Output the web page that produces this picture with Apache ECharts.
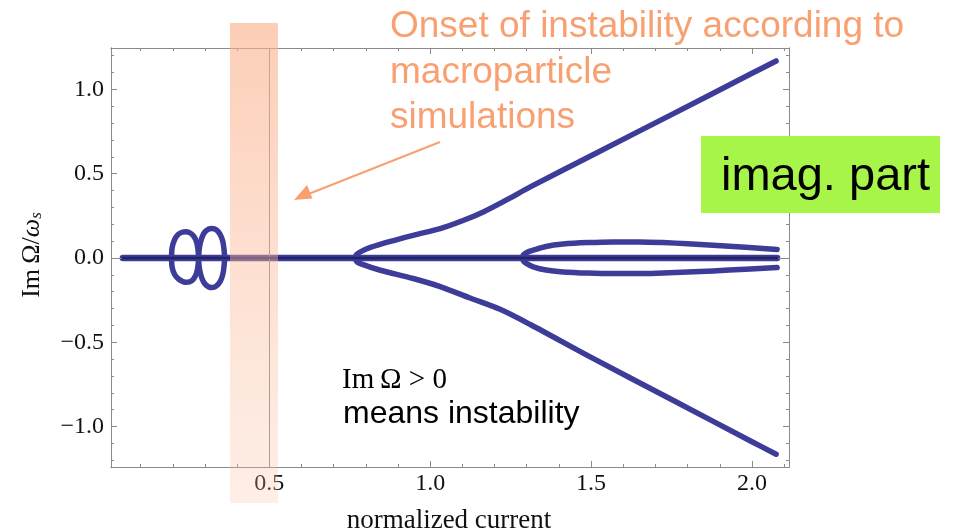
<!DOCTYPE html>
<html>
<head>
<meta charset="utf-8">
<script src="https://cdn.jsdelivr.net/npm/echarts@6/dist/echarts.min.js"></script>
<style>
  html, body { margin: 0; padding: 0; background: #ffffff; }
  #chart { width: 958px; height: 532px; }
</style>
</head>
<body>
<div id="chart"></div>
<script>
// Imaginary part of the coherent modes vs. normalized current

// real-axis segment (all modes with Im = 0)
const realAxisX = [0.045, 2.078];
const realAxisY = [0, 0];

// low-current loops
const loop1X = [0.196, 0.198, 0.205, 0.216, 0.229, 0.240, 0.252, 0.264, 0.273, 0.278, 0.280,
                0.278, 0.273, 0.264, 0.252, 0.240, 0.229, 0.216, 0.205, 0.198, 0.196];
const loop1Y = [0.000, 0.060, 0.105, 0.138, 0.152, 0.155, 0.150, 0.132, 0.100, 0.055, 0.000,
                -0.052, -0.095, -0.126, -0.142, -0.144, -0.138, -0.122, -0.095, -0.055, 0.000];
const loop2X = [0.280, 0.283, 0.290, 0.300, 0.312, 0.322, 0.335, 0.347, 0.355, 0.359, 0.361,
                0.359, 0.355, 0.347, 0.335, 0.322, 0.312, 0.300, 0.290, 0.283, 0.280];
const loop2Y = [0.000, 0.065, 0.118, 0.155, 0.172, 0.175, 0.167, 0.140, 0.102, 0.055, 0.000,
                -0.055, -0.102, -0.140, -0.167, -0.176, -0.172, -0.155, -0.118, -0.065, 0.000];

// main unstable / damped pair
const mainUpX = [0.767, 0.771, 0.783, 0.814, 0.876, 0.947, 1.031, 1.102, 1.165, 1.239, 1.311, 1.500, 1.750, 2.000, 2.075];
const mainUpY = [0.000, 0.020, 0.036, 0.062, 0.098, 0.134, 0.174, 0.222, 0.273, 0.346, 0.421, 0.606, 0.850, 1.095, 1.168];
const mainDnX = [0.767, 0.771, 0.783, 0.845, 0.947, 1.031, 1.124, 1.217, 1.311, 1.500, 1.750, 2.000, 2.075];
const mainDnY = [0.000, -0.020, -0.034, -0.073, -0.122, -0.170, -0.238, -0.305, -0.395, -0.590, -0.840, -1.090, -1.164];

// second pair splitting near 1.29
const secX   = [1.286, 1.290, 1.300, 1.320, 1.360, 1.413, 1.490, 1.568, 1.650, 1.724, 1.800, 1.879, 1.980, 2.078];
const secUpY = [0.000, 0.018, 0.032, 0.046, 0.068, 0.082, 0.091, 0.095, 0.095, 0.091, 0.084, 0.075, 0.063, 0.050];
const secDnY = [0.000, -0.018, -0.034, -0.053, -0.072, -0.083, -0.090, -0.093, -0.093, -0.089, -0.084, -0.077, -0.067, -0.057];

// axis ticks
const xMajorTicks = [0.5, 1.0, 1.5, 2.0];
const xMinorTicks = [0.1, 0.2, 0.3, 0.4, 0.5, 0.6, 0.7, 0.8, 0.9, 1.0, 1.1, 1.2, 1.3, 1.4, 1.5, 1.6, 1.7, 1.8, 1.9, 2.0, 2.1];
const yMajorTicks = [-1.0, -0.5, 0.0, 0.5, 1.0];
const yMinorTicks = [-1.2, -1.1, -1.0, -0.9, -0.8, -0.7, -0.6, -0.5, -0.4, -0.3, -0.2, -0.1, 0.0,
                     0.1, 0.2, 0.3, 0.4, 0.5, 0.6, 0.7, 0.8, 0.9, 1.0, 1.1, 1.2];
const xRange = [0.008, 2.115];
const yRange = [-1.240, 1.245];

const pairs = (xs, ys) => xs.map((x, i) => [x, ys[i]]);

const CURVE = '#3d3d99';
const FRAME = '#8a8a8a';
const ORANGE = '#f9a072';
const SERIF = '"Liberation Serif", "DejaVu Serif", serif';
const SANS = '"Liberation Sans", Arial, sans-serif';

const fmt = v => (v < 0 ? '\u2212' : '') + Math.abs(v).toFixed(1);

function xAxisDef(pos, ticks, len, labels) {
  return {
    type: 'value', position: pos, min: xRange[0], max: xRange[1],
    axisLine: { show: true, onZero: false, lineStyle: { color: FRAME, width: 1 } },
    axisTick: { show: true, inside: true, length: len, customValues: ticks, lineStyle: { color: FRAME } },
    axisLabel: labels ? { show: true, customValues: ticks, formatter: fmt, margin: 5,
      fontFamily: SERIF, fontSize: 24, color: '#111' } : { show: false },
    splitLine: { show: false }
  };
}
function yAxisDef(pos, ticks, len, labels) {
  return {
    type: 'value', position: pos, min: yRange[0], max: yRange[1],
    axisLine: { show: true, onZero: false, lineStyle: { color: FRAME, width: 1 } },
    axisTick: { show: true, inside: true, length: len, customValues: ticks, lineStyle: { color: FRAME } },
    axisLabel: labels ? { show: true, customValues: ticks, formatter: fmt, margin: 7,
      fontFamily: SERIF, fontSize: 24, color: '#111' } : { show: false },
    splitLine: { show: false }
  };
}

function curve(name, data) {
  return {
    name, type: 'line', data, xAxisIndex: 0, yAxisIndex: 0,
    showSymbol: false, symbol: 'none', z: 3,
    smooth: 0.3,
    lineStyle: { color: CURVE, width: 5.5, cap: 'round', join: 'round' }
  };
}

const chart = echarts.init(document.getElementById('chart'), null, { renderer: 'canvas' });

chart.setOption({
  animation: false,
  backgroundColor: '#ffffff',
  grid: { left: 111, right: 169, top: 48, bottom: 65 },
  xAxis: [
    xAxisDef('bottom', xMajorTicks, 6, true),
    xAxisDef('bottom', xMinorTicks, 3, false),
    xAxisDef('top', xMajorTicks, 6, false),
    xAxisDef('top', xMinorTicks, 3, false)
  ],
  yAxis: [
    yAxisDef('left', yMajorTicks, 6, true),
    yAxisDef('left', yMinorTicks, 3, false),
    yAxisDef('right', yMajorTicks, 6, false),
    yAxisDef('right', yMinorTicks, 3, false)
  ],
  series: [
    {
      name: 'axes', type: 'line', data: [], xAxisIndex: 0, yAxisIndex: 0, z: 1,
      markLine: {
        silent: true, symbol: ['none', 'none'], label: { show: false },
        lineStyle: { color: '#8c8c8c', width: 1, type: 'solid' },
        data: [{ yAxis: 0 }, { xAxis: 0.5 }]
      }
    },
    curve('loop1', pairs(loop1X, loop1Y)),
    curve('loop2', pairs(loop2X, loop2Y)),
    curve('mainUp', pairs(mainUpX, mainUpY)),
    curve('mainDn', pairs(mainDnX, mainDnY)),
    curve('secUp', pairs(secX, secUpY)),
    curve('secDn', pairs(secX, secDnY)),
    {
      name: 'real', type: 'line', data: pairs(realAxisX, realAxisY), z: 4,
      showSymbol: false, symbol: 'none',
      lineStyle: { color: CURVE, width: 6.5, cap: 'round' }
    },
    {
      name: 'realCore', type: 'line', data: pairs(realAxisX, realAxisY), z: 5,
      showSymbol: false, symbol: 'none',
      lineStyle: { color: '#22226a', width: 2.5, cap: 'round' }
    }
  ],
  graphic: [
    // translucent band marking the onset region
    {
      type: 'rect', z: 100, silent: true,
      shape: { x: 230, y: 23, width: 48, height: 480 },
      style: {
        fill: {
          type: 'linear', x: 0, y: 0, x2: 0, y2: 1,
          colorStops: [
            { offset: 0, color: 'rgba(251,176,138,0.62)' },
            { offset: 1, color: 'rgba(251,190,160,0.25)' }
          ]
        }
      }
    },
    // arrow
    {
      type: 'line', z: 110, silent: true,
      shape: { x1: 440, y1: 142, x2: 306, y2: 195 },
      style: { stroke: ORANGE, lineWidth: 2 }
    },
    {
      type: 'polygon', z: 110, silent: true,
      shape: { points: [[294, 200], [307, 185], [312.5, 198.5]] },
      style: { fill: ORANGE }
    },
    // annotation text
    {
      type: 'text', z: 120, x: 390, y: 27,
      style: { text: 'Onset of instability according to', fill: ORANGE,
        fontFamily: SANS, fontSize: 37, align: 'left', verticalAlign: 'middle' }
    },
    {
      type: 'text', z: 120, x: 390, y: 72.5,
      style: { text: 'macroparticle', fill: ORANGE,
        fontFamily: SANS, fontSize: 37, align: 'left', verticalAlign: 'middle' }
    },
    {
      type: 'text', z: 120, x: 390, y: 118,
      style: { text: 'simulations', fill: ORANGE,
        fontFamily: SANS, fontSize: 37, align: 'left', verticalAlign: 'middle' }
    },
    // label box
    {
      type: 'rect', z: 110, silent: true,
      shape: { x: 701, y: 136, width: 239, height: 77 },
      style: { fill: '#a6f548' }
    },
    {
      type: 'text', z: 120, x: 721, y: 177,
      style: { text: 'imag. part', fill: '#000000',
        fontFamily: SANS, fontSize: 47, align: 'left', verticalAlign: 'middle' }
    },
    {
      type: 'text', z: 120, x: 342, y: 380,
      style: { text: 'Im\u2009\u03A9 > 0', fill: '#000000',
        fontFamily: SERIF, fontSize: 29, align: 'left', verticalAlign: 'middle' }
    },
    {
      type: 'text', z: 120, x: 343, y: 414,
      style: { text: 'means instability', fill: '#000000',
        fontFamily: SANS, fontSize: 32, align: 'left', verticalAlign: 'middle' }
    },
    // axis titles
    {
      type: 'text', z: 120, x: 449, y: 521,
      style: { text: 'normalized current', fill: '#111',
        fontFamily: SERIF, fontSize: 27, align: 'center', verticalAlign: 'middle' }
    },
    {
      type: 'text', z: 120, x: 32, y: 255, rotation: Math.PI / 2,
      style: {
        text: '{a|Im\u2009\u03A9/}{w|\u03C9}{s|s}',
        align: 'center', verticalAlign: 'middle',
        rich: {
          a: { fontFamily: SERIF, fontSize: 26, fill: '#111' },
          w: { fontFamily: SERIF, fontSize: 26, fontStyle: 'italic', fill: '#111' },
          s: { fontFamily: SERIF, fontSize: 17, fontStyle: 'italic', fill: '#111', padding: [10, 0, 0, 0] }
        }
      }
    }
  ]
});
</script>
</body>
</html>
